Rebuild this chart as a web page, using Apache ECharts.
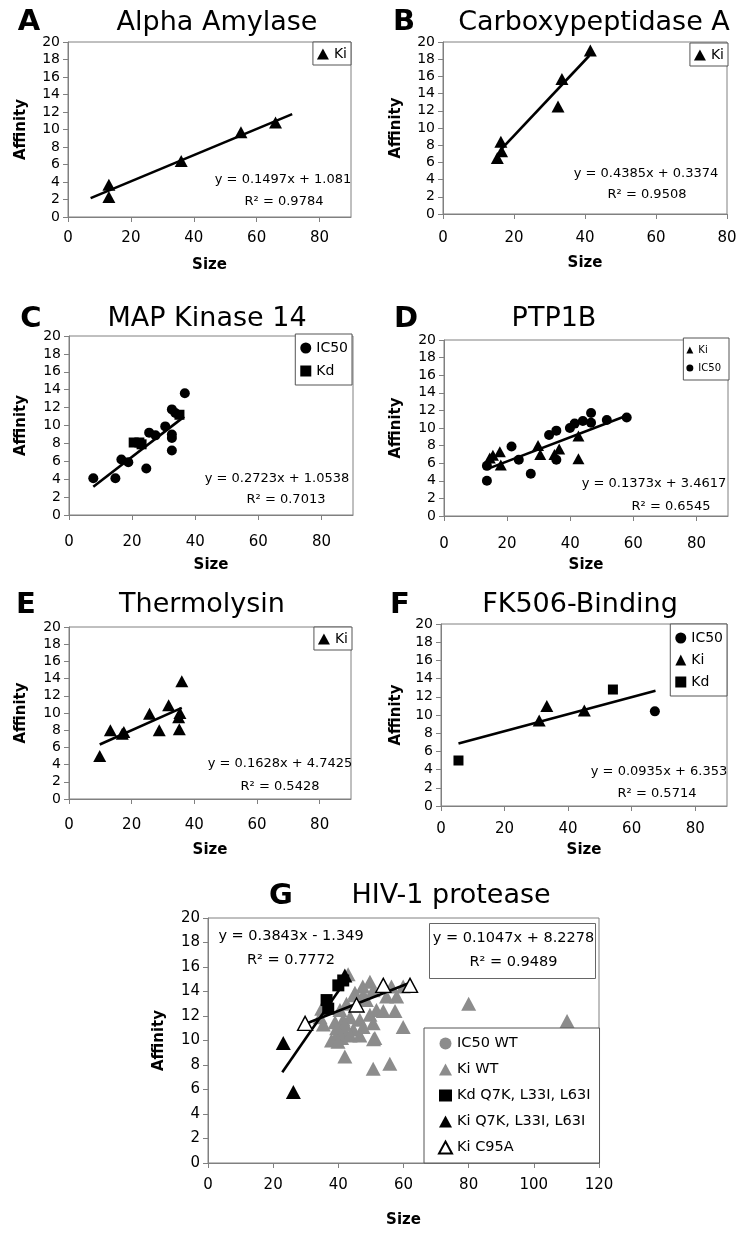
<!DOCTYPE html>
<html><head><meta charset="utf-8">
<script src="https://cdn.jsdelivr.net/npm/echarts@6/dist/echarts.min.js"></script>
<style>html,body{margin:0;padding:0;background:#fff}#c{width:750px;height:1247px}</style>
</head><body><div id="c"></div>
<script>
// ---------------- DATA ----------------
const panelLetters = ['A','B','C','D','E','F','G'];
const panelTitles = ['Alpha Amylase','Carboxypeptidase A','MAP Kinase 14','PTP1B','Thermolysin','FK506-Binding','HIV-1 protease'];
const xAxisMax = [90, 80, 90, 90, 90, 90, 120];
const yTickValues = [0,2,4,6,8,10,12,14,16,18,20];
const xAxisName = 'Size';
const yAxisName = 'Affinity';

// A Alpha Amylase
const aKi = [[13,3.7],[13,2.3],[36,6.4],[55,9.7],[66,10.8]];
const aTrend = [[7.2,2.16],[71.3,11.76]];
const aEquation = ['y = 0.1497x + 1.081','R\u00B2 = 0.9784'];
// B Carboxypeptidase A
const bKi = [[15.3,6.5],[16.3,8.4],[16.5,7.3],[32.4,12.5],[33.5,15.7],[41.5,19.0]];
const bTrend = [[16.5,7.57],[41.2,18.4]];
const bEquation = ['y = 0.4385x + 0.3374','R\u00B2 = 0.9508'];
// C MAP Kinase 14
const cIC50 = [[7.7,4.1],[14.7,4.1],[16.6,6.2],[18.8,5.9],[24.5,5.2],[25.4,9.2],[27.4,8.9],[30.5,9.9],[32.6,7.2],[32.6,8.6],[32.6,9.0],[32.6,11.8],[33.7,11.4],[36.7,13.6]];
const cKd = [[20.5,8.1],[22.3,8.1],[23.0,7.9],[35.0,11.2]];
const cTrend = [[7.7,3.15],[36.5,10.99]];
const cEquation = ['y = 0.2723x + 1.0538','R\u00B2 = 0.7013'];
// D PTP1B
const dKi = [[14.5,6.6],[15.5,6.9],[17.7,7.3],[18,5.8],[29.8,8.0],[30.5,7.0],[35,7.0],[36.5,7.6],[42.6,9.1],[42.6,6.5]];
const dIC50 = [[13.6,5.7],[13.6,4.0],[21.4,7.9],[23.7,6.4],[27.5,4.8],[33.3,9.2],[35.6,9.7],[35.6,6.4],[39.9,10.0],[41.4,10.5],[44,10.8],[46.6,11.7],[46.6,10.6],[51.6,10.9],[57.9,11.2]];
const dTrend = [[13.6,5.33],[58,11.43]];
const dEquation = ['y = 0.1373x + 3.4617','R\u00B2 = 0.6545'];
// E Thermolysin
const eKi = [[9.8,5.0],[13.2,8.0],[17,7.6],[17.5,7.8],[25.7,9.9],[28.8,8.0],[31.8,10.9],[35,9.5],[35.4,10.0],[35.2,8.1],[36,13.7]];
const eTrend = [[9.8,6.34],[36,10.60]];
const eEquation = ['y = 0.1628x + 4.7425','R\u00B2 = 0.5428'];
// F FK506-Binding
const fIC50 = [[67.3,10.4]];
const fKi = [[30.9,9.4],[33.3,11.0],[45.1,10.5]];
const fKd = [[5.5,5.0],[54.1,12.8]];
const fTrend = [[5.5,6.87],[67.5,12.66]];
const fEquation = ['y = 0.0935x + 6.353','R\u00B2 = 0.5714'];
// G HIV-1 protease
const gIC50WT = [];
const gKiWT = [[43,15.4],[49.7,14.8],[56.3,14.4],[59.9,14.4],[57.9,13.6],[54.8,13.6],[50.7,14.1],[47.6,13.7],[45.1,13.9],[42.5,13.0],[40.5,12.5],[34.4,11.9],[34.9,12.6],[39,11.5],[41.5,11.7],[43.6,11.9],[46.6,11.7],[49.7,12.1],[51.7,12.5],[53.8,12.4],[57.4,12.4],[50.7,11.4],[47.6,11.1],[44.6,10.9],[42,10.7],[39.5,10.4],[37.9,10.0],[41,10.2],[43.6,10.4],[46.6,10.4],[42,11.3],[39.5,11.0],[51.2,10.2],[59.9,11.1],[42,8.7],[50.7,7.7],[55.8,8.1],[50.8,10.1],[39.9,9.9],[35.4,11.3],[80,13.0],[110.2,11.6],[45,13.7],[47.5,14.4],[48.6,13.3]];
const gKdMut = [[36.4,13.3],[36.9,12.6],[40,14.5],[41.5,14.9]];
const gKiMut = [[23.1,9.8],[26.2,5.8],[42,15.3]];
const gKiC95A = [[29.8,11.4],[45.6,12.9],[53.8,14.5],[62,14.5]];
const gTrendMut = [[22.8,7.41],[42,14.79]];
const gTrendWT = [[29.8,11.35],[62,14.72]];
const gEquationMut = ['y = 0.3843x - 1.349','R\u00B2 = 0.7772'];
const gEquationWT = ['y = 0.1047x + 8.2278','R\u00B2 = 0.9489'];

// ---------------- LAYOUT / STYLE ----------------
const FONT = 'DejaVu Sans';
const AXIS_GREY = '#808080';
const GREY_MARK = '#8c8c8c';
const layout = [
  {grid:{left:68,top:42,width:283,height:175}, lblMargin:14, nameGap:41, yNameGap:39, letter:[29,22.5], title:[217,22.5], eq:[[283,180],[284,202]]},
  {grid:{left:443,top:42,width:284,height:172}, lblMargin:17, nameGap:42, yNameGap:39, letter:[404,22.5], title:[594,22.5], eq:[[646,173.5],[647,195]]},
  {grid:{left:69,top:336,width:284,height:179}, lblMargin:20, nameGap:43, yNameGap:40, letter:[31,319], title:[207,319], eq:[[277,478.5],[286,500]]},
  {grid:{left:444,top:340,width:284,height:176}, lblMargin:21, nameGap:42, yNameGap:40, letter:[406,319], title:[554,319], eq:[[654,483.5],[671,506.5]]},
  {grid:{left:69,top:627,width:282,height:172}, lblMargin:19, nameGap:44, yNameGap:40, letter:[26,605], title:[202,605], eq:[[280,763.5],[280,786.5]]},
  {grid:{left:441,top:624,width:286,height:182}, lblMargin:16, nameGap:37, yNameGap:37, letter:[400,605], title:[580,605], eq:[[659,772],[657,793.5]]},
  {grid:{left:208,top:918,width:391,height:245}, lblMargin:15, nameGap:50, yNameGap:41, letter:[281,896], title:[451,896], eq:[[291,936],[291,960]]}
];

const grids = [], xAxes = [], yAxes = [], series = [], graphics = [], legends = [];

layout.forEach((p, i) => {
  grids.push(Object.assign({show:true, borderColor:AXIS_GREY, borderWidth:1, backgroundColor:'rgba(0,0,0,0)', containLabel:false}, p.grid));
  const max = xAxisMax[i];
  xAxes.push({
    type:'value', gridIndex:i, min:0, max:max, interval:20,
    axisLine:{show:true, onZero:false, lineStyle:{color:AXIS_GREY, width:1}},
    axisTick:{show:true, length:5, lineStyle:{color:AXIS_GREY}},
    axisLabel:{color:'#000', fontSize:15, fontFamily:FONT, margin:p.lblMargin, showMaxLabel: max % 20 === 0},
    splitLine:{show:false},
    name:xAxisName, nameLocation:'middle', nameGap:p.nameGap,
    nameTextStyle:{color:'#000', fontWeight:'bold', fontSize:15, fontFamily:FONT}
  });
  yAxes.push({
    type:'value', gridIndex:i, min:yTickValues[0], max:yTickValues[yTickValues.length-1], interval:yTickValues[1]-yTickValues[0],
    axisLine:{show:true, onZero:false, lineStyle:{color:AXIS_GREY, width:1}},
    axisTick:{show:true, length:5, lineStyle:{color:AXIS_GREY}},
    axisLabel:{color:'#000', fontSize: i===6 ? 15 : 14, fontFamily:FONT, margin:8},
    splitLine:{show:false},
    name:yAxisName, nameLocation:'middle', nameGap:p.yNameGap, nameRotate:90,
    nameTextStyle:{color:'#000', fontWeight:'bold', fontSize:15, fontFamily:FONT}
  });
  graphics.push({type:'text', x:p.letter[0], y:p.letter[1], z:10, silent:true,
    style:{text:panelLetters[i], fontSize:29, fontWeight:'bold', fontFamily:FONT, fill:'#000', align:'center', verticalAlign:'middle'}});
  graphics.push({type:'text', x:p.title[0], y:p.title[1], z:10, silent:true,
    style:{text:panelTitles[i], fontSize:27, fontFamily:FONT, fill:'#000', align:'center', verticalAlign:'middle'}});
});

function trend(i, data){
  series.push({type:'line', xAxisIndex:i, yAxisIndex:i, data:data, symbol:'none', silent:true,
    lineStyle:{color:'#000', width:2.6}, z:3, animation:false});
}
function scatter(i, name, data, symbol, size, color, z, border){
  series.push({type:'scatter', name:name, xAxisIndex:i, yAxisIndex:i, data:data, symbol:symbol, symbolSize:size, silent:true,
    itemStyle: border ? {color:color, opacity:1, borderColor:'#000', borderWidth:1.4} : {color:color, opacity:1}, z:z, animation:false});
}
const TRI = [13,12], CIR = 10, SQ = 10;
// A
trend(0, aTrend); scatter(0,'Ki',aKi,'triangle',TRI,'#000',4);
// B
trend(1, bTrend); scatter(1,'Ki',bKi,'triangle',TRI,'#000',4);
// C
trend(2, cTrend); scatter(2,'IC50',cIC50,'circle',CIR,'#000',4); scatter(2,'Kd',cKd,'rect',SQ,'#000',4);
// D
trend(3, dTrend); scatter(3,'Ki',dKi,'triangle',[12,11],'#000',4); scatter(3,'IC50',dIC50,'circle',CIR,'#000',4);
// E
trend(4, eTrend); scatter(4,'Ki',eKi,'triangle',TRI,'#000',4);
// F
trend(5, fTrend); scatter(5,'IC50',fIC50,'circle',CIR,'#000',4); scatter(5,'Ki',fKi,'triangle',TRI,'#000',4); scatter(5,'Kd',fKd,'rect',SQ,'#000',4);
// G
scatter(6,'IC50 WT',gIC50WT,'circle',12,GREY_MARK,2);
scatter(6,'Ki WT',gKiWT,'triangle',[15,14],GREY_MARK,2);
trend(6, gTrendMut); trend(6, gTrendWT);
scatter(6,'Kd Q7K, L33I, L63I',gKdMut,'rect',12,'#000',4);
scatter(6,'Ki Q7K, L33I, L63I',gKiMut,'triangle',[15,14],'#000',4);
scatter(6,'Ki C95A',gKiC95A,'triangle',[15,14],'#fff',5,true);

// equations
const eqs = [aEquation,bEquation,cEquation,dEquation,eEquation,fEquation,gEquationMut];
eqs.forEach((e, i) => {
  const p = layout[i];
  const fs = i===6 ? 14.5 : 13;
  e.forEach((line, k) => {
    graphics.push({type:'text', x:p.eq[k][0], y:p.eq[k][1], z:10, silent:true,
      style:{text:line, fontSize:fs, fontFamily:FONT, fill:'#000', align:'center', verticalAlign:'middle'}});
  });
});
// G second equation with box
graphics.push({type:'rect', shape:{x:429.5, y:923.5, width:166, height:55}, z:6, silent:true,
  style:{fill:'#fff', stroke:'#666', lineWidth:1}});
gEquationWT.forEach((line, k) => {
  graphics.push({type:'text', x:513.5, y:[938.5,962.5][k], z:10, silent:true,
    style:{text:line, fontSize:14.5, fontFamily:FONT, fill:'#000', align:'center', verticalAlign:'middle'}});
});

// legends
function legend(names, pos, opts){
  legends.push(Object.assign({
    orient:'vertical', data:names, selectedMode:false, backgroundColor:'#fff',
    borderColor:'#555', borderWidth:1, textStyle:{color:'#000', fontFamily:FONT, fontSize:14},
    itemWidth:11, itemHeight:11, itemGap:8, padding:[5,4,5,4], z:8
  }, pos, opts||{}));
}
legend(['Ki'], {right:399, top:42}, {itemWidth:12, itemHeight:11, padding:[5,4,4,4]});
legend(['Ki'], {right:22, top:43}, {itemWidth:12, itemHeight:11, padding:[5,4,4,4]});
legend(['IC50','Kd'], {right:398, top:334}, {itemGap:9, padding:[7,4,7,5]});
legend(['Ki','IC50'], {right:21, top:338}, {itemWidth:7, itemHeight:7, itemGap:8, textStyle:{color:'#000', fontFamily:FONT, fontSize:10}, padding:[7,8,7,3]});
legend(['Ki'], {right:398, top:627}, {itemWidth:12, itemHeight:11, padding:[5,4,4,4]});
legend(['IC50','Ki','Kd'], {right:23, top:624}, {itemGap:8, padding:[7,4,7,5]});
legend(['IC50 WT','Ki WT','Kd Q7K, L33I, L63I','Ki Q7K, L33I, L63I','Ki C95A'], {left:424, top:1028},
  {itemWidth:13, itemHeight:12, itemGap:11, textStyle:{color:'#000', fontFamily:FONT, fontSize:14.5}, padding:[8,9,8,14]});

const chart = echarts.init(document.getElementById('c'), null, {renderer:'canvas'});
chart.setOption({
  animation:false,
  textStyle:{fontFamily:FONT},
  grid:grids, xAxis:xAxes, yAxis:yAxes, series:series, legend:legends, graphic:graphics
});
</script></body></html>
